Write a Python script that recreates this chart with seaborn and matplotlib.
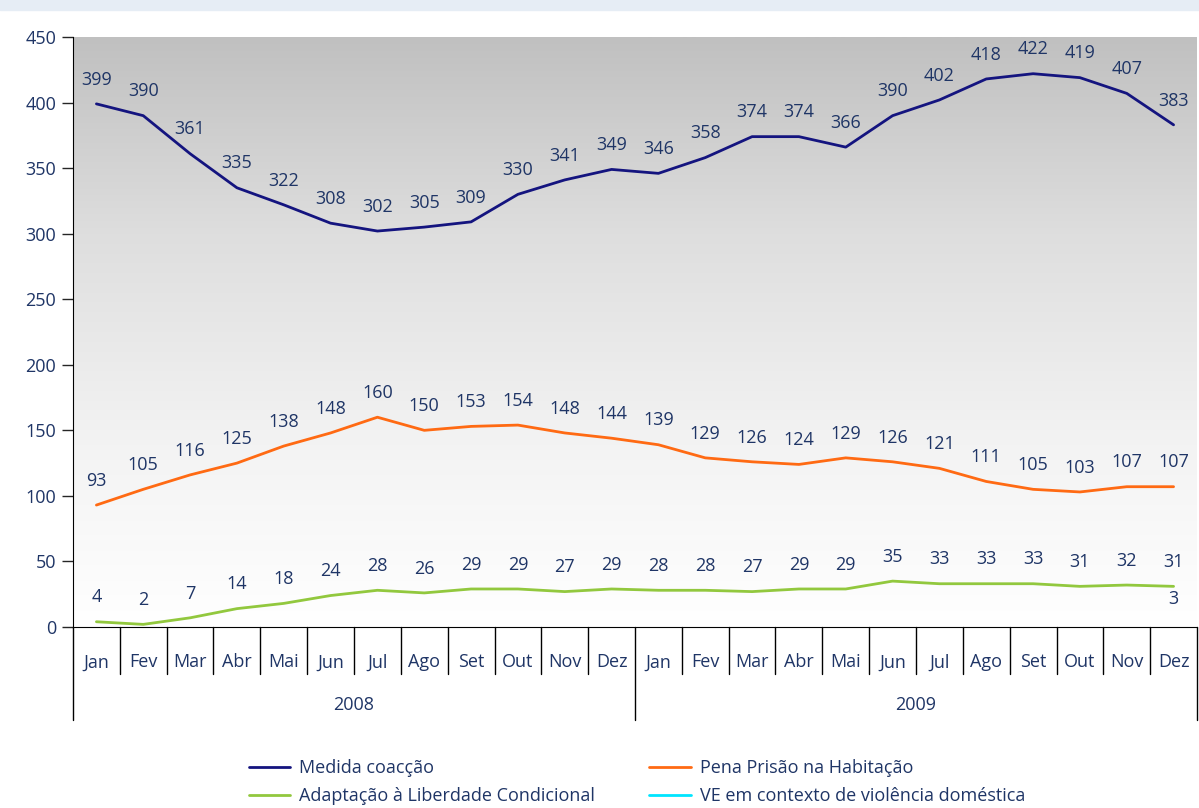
import numpy as np
import pandas as pd
import seaborn as sns
from matplotlib import pyplot as plt
from matplotlib.patches import Rectangle
from matplotlib.colors import LinearSegmentedColormap

months = ["Jan", "Fev", "Mar", "Abr", "Mai", "Jun", "Jul", "Ago", "Set", "Out", "Nov", "Dez"]
years = ["2008", "2009"]

medida = [399, 390, 361, 335, 322, 308, 302, 305, 309, 330, 341, 349,
          346, 358, 374, 374, 366, 390, 402, 418, 422, 419, 407, 383]
pena = [93, 105, 116, 125, 138, 148, 160, 150, 153, 154, 148, 144,
        139, 129, 126, 124, 129, 126, 121, 111, 105, 103, 107, 107]
adaptacao = [4, 2, 7, 14, 18, 24, 28, 26, 29, 29, 27, 29,
             28, 28, 27, 29, 29, 35, 33, 33, 33, 31, 32, 31]
ve = [np.nan] * 23 + [3]

names = ["Medida coacção", "Pena Prisão na Habitação",
         "Adaptação à Liberdade Condicional", "VE em contexto de violência doméstica"]
colors = ["#14147f", "#ff6a13", "#92c83e", "#00e5ff"]

n = len(medida)
rows = []
for name, vals in zip(names, [medida, pena, adaptacao, ve]):
    for i, v in enumerate(vals):
        rows.append({"idx": i, "valor": v, "serie": name})
df = pd.DataFrame(rows)

sns.set_style("white")
plt.rcParams["font.family"] = ["Open Sans", "DejaVu Sans"]
txt = "#1f3566"

fig = plt.figure(figsize=(11.99, 8.08), dpi=100, facecolor="white")
fig.patches.append(Rectangle((0, 1 - 10 / 808), 1, 10 / 808, transform=fig.transFigure,
                             color="#e6edf5", zorder=0))
ax = fig.add_axes([73 / 1199, 1 - 627 / 808, 1124 / 1199, 590 / 808])

# gradient background (grey at top, white at bottom)
bg = LinearSegmentedColormap.from_list("bg", ["#ffffff", "#f2f2f2", "#dedede", "#c0c0c0"])
grad = np.linspace(1, 0, 256).reshape(-1, 1)
ax.imshow(grad, extent=(-0.5, n - 0.5, 0, 450), aspect="auto", cmap=bg,
          vmin=0, vmax=1, zorder=0, origin="upper")

sns.lineplot(data=df, x="idx", y="valor", hue="serie", hue_order=names,
             palette=colors, linewidth=2, ax=ax, zorder=3)

for name, vals in zip(names, [medida, pena, adaptacao, ve]):
    for i, v in enumerate(vals):
        if np.isnan(v):
            continue
        ax.annotate(f"{v:.0f}", (i, v), xytext=(0, 11), textcoords="offset points",
                    ha="center", va="bottom", fontsize=13, color=txt, zorder=4)

ax.set_xlim(-0.5, n - 0.5)
ax.set_ylim(0, 450)
ax.set_yticks(range(0, 451, 50))
ax.tick_params(axis="y", labelsize=13, labelcolor=txt, length=8, width=1,
               direction="out", left=True, pad=4)
ax.set_xticks(range(n))
ax.set_xticklabels(months * 2, fontsize=13, color=txt)
ax.tick_params(axis="x", length=0, pad=19)
ax.set_xlabel("")
ax.set_ylabel("")
sns.despine(ax=ax, top=True, right=True)
ax.spines["left"].set_color("black")
ax.spines["bottom"].set_color("black")

# category separators below the axis
trans = ax.get_xaxis_transform()
for b in np.arange(-0.5, n, 1.0):
    depth = -93 / 590 if b in (-0.5, 11.5, n - 0.5) else -47 / 590
    ax.plot([b, b], [0, depth], color="black", lw=1, transform=trans, clip_on=False)
for k, yr in enumerate(years):
    ax.text(k * 12 + 5.5, -78 / 590, yr, transform=trans, ha="center", va="center",
            fontsize=13, color=txt)

handles, labels = ax.get_legend_handles_labels()
ax.get_legend().remove()
order = [0, 2, 1, 3]
fig.legend([handles[i] for i in order], [labels[i] for i in order], ncol=2,
           loc="center", bbox_to_anchor=(637 / 1199, 1 - 782 / 808), frameon=False,
           fontsize=13, handlelength=2.3, handletextpad=0.5, labelspacing=0.55,
           columnspacing=3.0, labelcolor=txt)

fig.savefig("out.png", dpi=100, facecolor=fig.get_facecolor())
